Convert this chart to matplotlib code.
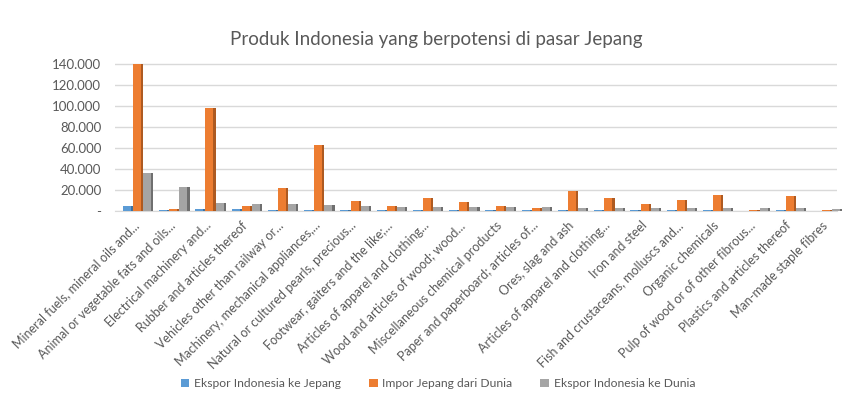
import matplotlib
matplotlib.use("Agg")
import matplotlib.pyplot as plt
from matplotlib.ticker import FuncFormatter, MultipleLocator
import numpy as np

categories = [
    "Mineral fuels, mineral oils and...",
    "Animal or vegetable fats and oils...",
    "Electrical machinery and...",
    "Rubber and articles thereof",
    "Vehicles other than railway or...",
    "Machinery, mechanical appliances,...",
    "Natural or cultured pearls, precious...",
    "Footwear, gaiters and the like;...",
    "Articles of apparel and clothing...",
    "Wood and articles of wood; wood...",
    "Miscellaneous chemical products",
    "Paper and paperboard; articles of...",
    "Ores, slag and ash",
    "Articles of apparel and clothing...",
    "Iron and steel",
    "Fish and crustaceans, molluscs and...",
    "Organic chemicals",
    "Pulp of wood or of other fibrous...",
    "Plastics and articles thereof",
    "Man-made staple fibres",
]

ekspor_indo_jepang = [5000, 500, 1500, 1500, 500, 1000, 1000, 1000, 1000, 1000,
                      500, 500, 500, 500, 500, 500, 500, 300, 500, 300]
impor_jepang_dunia = [140000, 1500, 98000, 4500, 21500, 63000, 10000, 4600, 12300, 8800,
                      4600, 2500, 19000, 12000, 6500, 10800, 14800, 1200, 14000, 800]
ekspor_indo_dunia = [36000, 23000, 7500, 7000, 6500, 5500, 4500, 4000, 4000, 3500,
                     3500, 3500, 3000, 3000, 3000, 3000, 3000, 2500, 3000, 2000]

series = [
    ("Ekspor Indonesia ke Jepang", ekspor_indo_jepang, "#5B9BD5", "#41719C"),
    ("Impor Jepang dari Dunia", impor_jepang_dunia, "#ED7D31", "#AE5A21"),
    ("Ekspor Indonesia ke Dunia", ekspor_indo_dunia, "#A5A5A5", "#6F6F6F"),
]

plt.rcParams['font.family'] = ['Lato', 'DejaVu Sans']
text_color = "#595959"

fig = plt.figure(figsize=(8.44, 4.0), dpi=100)
ax = fig.add_axes([0.1365, 0.4725, 0.855, 0.37])

x = np.arange(len(categories))
w = 0.22
side = 0.06
handles = []
for i, (name, vals, col, dark) in enumerate(series):
    pos = x + (i - 1) * (w + side)
    b = ax.bar(pos, vals, width=w, color=col, label=name, zorder=3, clip_on=False)
    ax.bar(pos + w / 2 + side / 2, vals, width=side, color=dark, zorder=3, clip_on=False)
    handles.append(b)

ax.set_xlim(-0.6, len(categories) - 0.7)
ax.set_ylim(0, 141000)
ax.yaxis.set_major_locator(MultipleLocator(20000))

def fmt(v, p):
    if v == 0:
        return "-"
    return f"{int(v):,}".replace(",", ".")

ax.yaxis.set_major_formatter(FuncFormatter(fmt))
ax.grid(axis='y', color="#D9D9D9", linewidth=1, zorder=0)
for s in ax.spines.values():
    s.set_visible(False)
ax.spines['bottom'].set_visible(True)
ax.spines['bottom'].set_color("#D9D9D9")
ax.tick_params(axis='y', length=0, colors=text_color, labelsize=9.5, pad=10)
ax.tick_params(axis='x', length=0, colors=text_color, pad=9)
ax.set_xticks(x)
ax.set_xticklabels(categories, rotation=45, ha='right', va='center',
                   rotation_mode='anchor', fontsize=9, color=text_color)

fig.text(0.517, 0.9, "Produk Indonesia yang berpotensi di pasar Jepang",
         ha='center', va='center', fontsize=13.5, color=text_color)

fig.legend(handles=handles, labels=[s[0] for s in series], loc='lower center',
           ncol=3, frameon=False, fontsize=8.7, labelcolor=text_color,
           bbox_to_anchor=(0.519, 0.0), handlelength=0.7, handleheight=0.7,
           columnspacing=2.3, handletextpad=0.4)

fig.savefig("out.png", dpi=100)
